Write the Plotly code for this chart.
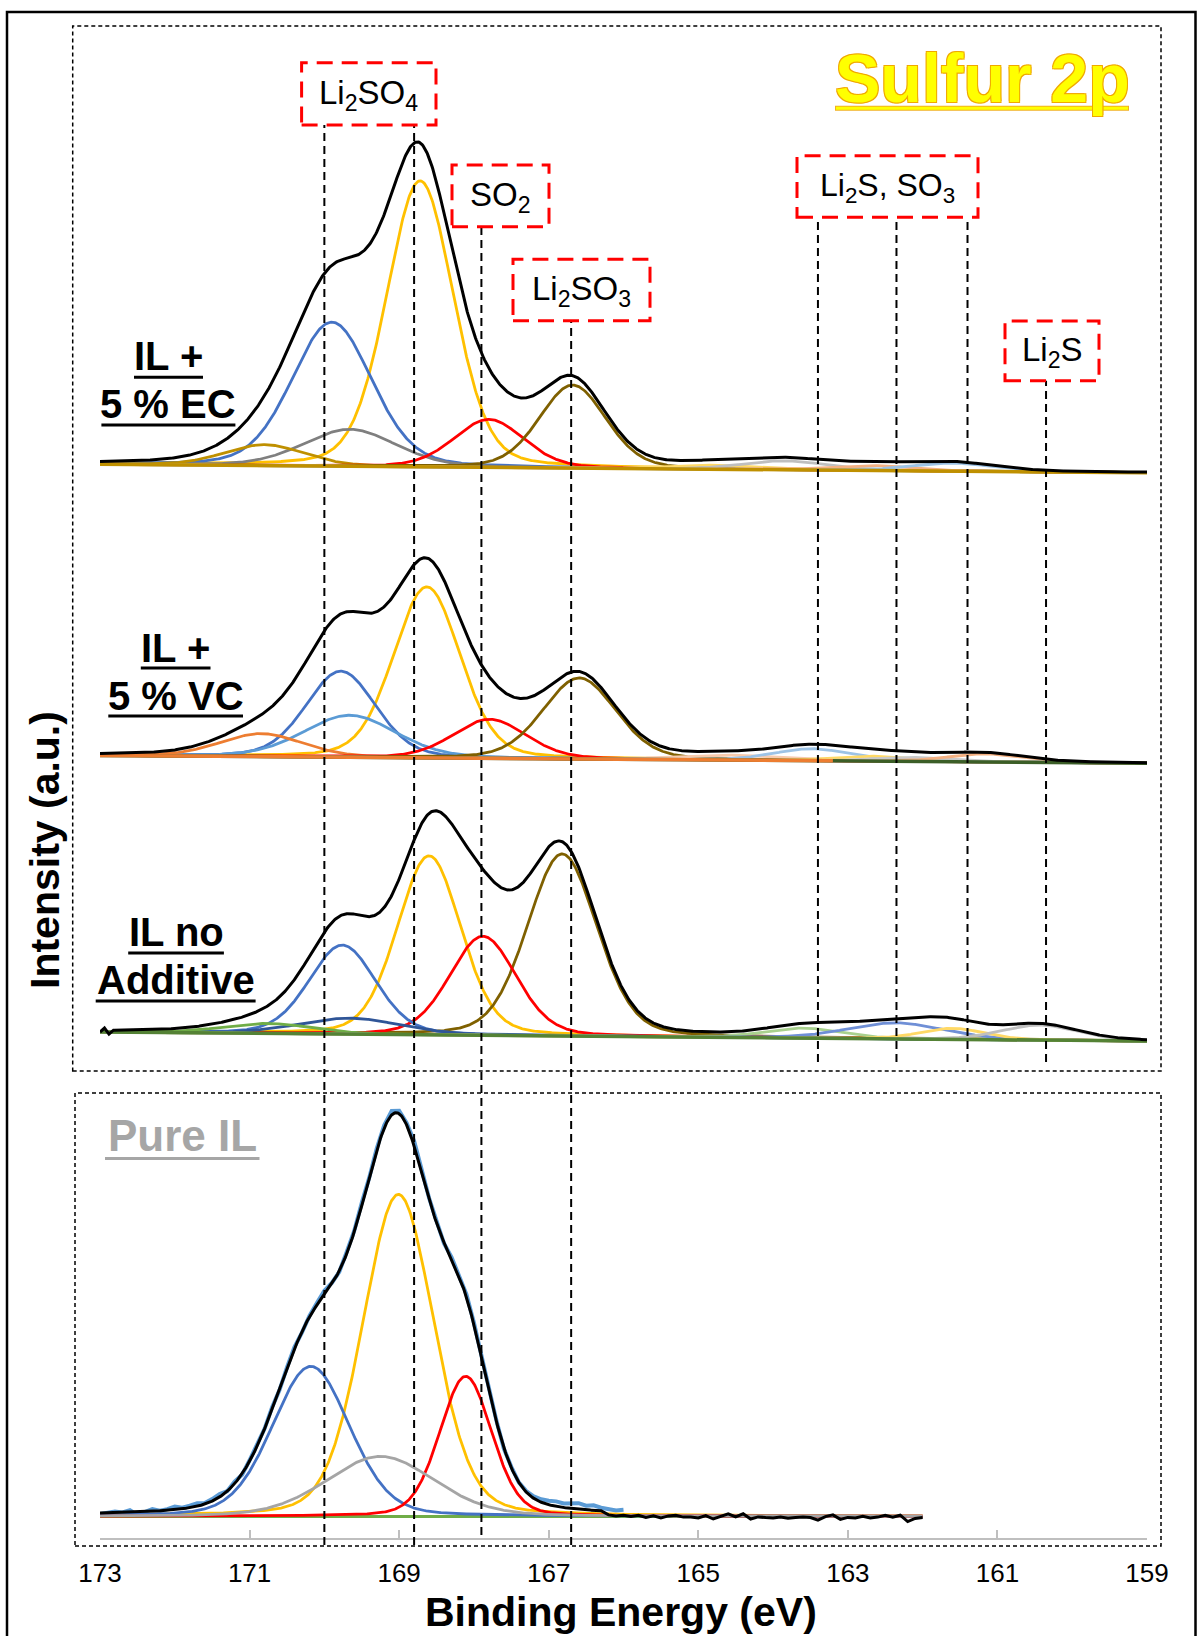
import numpy as np
import plotly.graph_objects as go

# ---------------- DATA ----------------
x_ticks = [173, 171, 169, 167, 165, 163, 161, 159]

# IL + 5 % EC : background (intensity at 173 eV and 159 eV) and fitted components
ec_background = [1073.7, 1065.3]
ec_center = [168.72, 169.90, 169.66, 170.80, 167.80, 166.68, 164.80, 163.85, 162.70, 161.60]
ec_height = [286, 144, 37, 21, 48, 83, 4, 9, 5, 8]
ec_fwhm = [1.05, 1.26, 1.45, 1.25, 1.10, 1.05, 1.3, 1.3, 1.3, 1.3]

# IL + 5 % VC
vc_background = [782.6, 774.8]
vc_orange_bg_end = 163.2
vc_center = [168.63, 169.78, 169.66, 170.84, 167.79, 166.59, 164.60, 163.48, 162.70, 162.10, 161.15]
vc_height = [171, 86, 42, 23, 39, 81, 5, 12, 5, 4, 8]
vc_fwhm = [1.05, 1.10, 1.45, 1.30, 1.15, 1.15, 1.6, 1.2, 1.2, 1.2, 1.2]

# IL no Additive
na_background = [506.0, 497.0]
na_center = [168.60, 166.82, 167.88, 169.76, 169.66, 170.75, 163.60, 162.36, 161.60, 160.43]
na_height = [179, 182, 99, 89, 16, 10, 10, 16, 11, 15]
na_fwhm = [1.00, 1.10, 1.05, 1.05, 1.60, 1.40, 1.2, 1.5, 1.0, 1.2]
na_start_E = [173.0, 172.94, 172.88]
na_start_dI = [0.0, 4.0, -2.0]

# Pure IL (measured range 173 - 162 eV)
pure_range = [173.0, 162.0]
pure_background = [21.6, 21.6]
pure_center = [169.01, 170.18, 168.11, 169.25]
pure_height = [322, 150, 140, 60]
pure_fwhm = [1.12, 1.22, 0.82, 1.70]
pure_raw_E = [round(173.0 - 0.1 * i, 1) for i in range(71)]
pure_raw_dI = [-1, 0, 1, 0, 2, -3, 0, 2, 0, 1, 3, 1, 2, 3, 1, 2, 3, 0, 2, -1,
               1, 2, 0, 2, -1, 1, 2, -1, 1, 2, 4, 1, -1, 2, 1, 3, 0, 2, 3, 4,
               3, 2, 5, 3, 1, 2, -1, 2, 1, 3, 2, 1, 0, 1, -1, 1, 0, 1, 2, 3,
               4, 5, 4, 5, 6, 4, 5, 3, 2, 1, 2]
pure_tail_E = [166.2, 166.1, 166.0, 165.9, 165.8, 165.7, 165.6, 165.5, 165.4, 165.3,
               165.2, 165.1, 165.0, 164.9, 164.8, 164.7, 164.6, 164.5, 164.4, 164.3,
               164.2, 164.1, 164.0, 163.9, 163.8, 163.7, 163.6, 163.5, 163.4, 163.3,
               163.2, 163.1, 163.0, 162.9, 162.8, 162.7, 162.6, 162.5, 162.4, 162.3,
               162.2, 162.1, 162.0]
pure_tail_dI = [1.5, 0.5, 1.2, 0.0, 1.2, -1.0, 0.5, -1.5, 0.5, 1.2, -0.7, -0.7, -1.5, 0.8,
                -2.6, 0.0, 2.6, -0.5, 2.6, -2.6, -0.5, -1.1, -1.5, -0.5, -1.8, -1.1, -0.6,
                -1.1, -3.7, -0.2, 1.5, -3.0, -1.0, -1.5, 0.0, -1.5, -0.7, 1.0, -0.7, 1.2,
                -5.2, -2.0, -1.1]

marker_E_left = [170.0, 168.8, 167.9, 166.7]
marker_E_right = [163.4, 162.35, 161.4, 160.35]

# ---------------- STYLE ----------------
ec_colors = ["#FFC000", "#4472C4", "#7F7F7F", "#BF9000", "#FF0000", "#7F6000",
             "#FFD966", "#BFBFBF", "#F4B183", "#9DC3E6"]
vc_colors = ["#FFC000", "#4472C4", "#5B9BD5", "#ED7D31", "#FF0000", "#7F6000",
             "#F8CBAD", "#9DC3E6", "#FFD966", "#C9C9C9", "#F4B183"]
na_colors = ["#FFC000", "#7F6000", "#FF0000", "#4472C4", "#2F5597", "#70AD47",
             "#A9D18E", "#6F8FD6", "#FFD966", "#BFBFBF"]
pure_colors = ["#FFC000", "#4472C4", "#FF0000", "#A5A5A5"]
FONT = "Liberation Sans, Arial, sans-serif"

W, H = 1198, 1636
ML, MR, MT, MB = 100, 51, 12, 98
PW, PH = W - ML - MR, H - MT - MB


def px(xp):
    return (xp - ML) / PW


def py(yp):
    return (H - MB - yp) / PH


grid = np.linspace(173.0, 159.0, 1401)


def gl(E, c, h, w, m=0.2):
    d2 = 4.0 * (np.asarray(E) - c) ** 2 / w ** 2
    return h * ((1 - m) * np.exp(-np.log(2) * d2) + m / (1 + d2))


def bg(E, b):
    return b[0] + (b[1] - b[0]) * (173.0 - np.asarray(E)) / 14.0


def envelope(E, b, cs, hs, ws):
    tot = bg(E, b)
    for c, h, w in zip(cs, hs, ws):
        tot = tot + gl(E, c, h, w)
    return tot


fig = go.Figure()


def add_line(x, y, color, width):
    fig.add_trace(go.Scatter(x=list(x), y=list(y), mode="lines",
                             line=dict(color=color, width=width),
                             hoverinfo="skip", showlegend=False))


def add_components(b, cs, hs, ws, colors, g=grid):
    for c, h, w, col in zip(cs, hs, ws, colors):
        add_line(g, bg(g, b) + gl(g, c, h, w), col, 2.8)


# EC
add_components(ec_background, ec_center, ec_height, ec_fwhm, ec_colors)
add_line([173, 159], ec_background, "#BF9000", 3.5)
add_line(grid, envelope(grid, ec_background, ec_center, ec_height, ec_fwhm), "black", 3)

# VC
add_components(vc_background, vc_center, vc_height, vc_fwhm, vc_colors)
add_line([173, 159], vc_background, "#3B5E27", 3.5)
add_line([173, vc_orange_bg_end], bg([173, vc_orange_bg_end], vc_background), "#ED7D31", 3.5)
add_line(grid, envelope(grid, vc_background, vc_center, vc_height, vc_fwhm), "black", 3)

# No additive
add_components(na_background, na_center, na_height, na_fwhm, na_colors)
add_line([173, 159], na_background, "#548235", 3.5)
g2 = grid[grid <= 172.83]
na_x = list(na_start_E) + list(g2)
na_y = list(bg(na_start_E, na_background) + np.array(na_start_dI)) + \
    list(envelope(g2, na_background, na_center, na_height, na_fwhm))
add_line(na_x, na_y, "black", 3)

# Pure IL
gp = grid[grid >= pure_range[1]]
add_line(pure_range, bg(pure_range, pure_background), "#70AD47", 3)
raw_y = envelope(pure_raw_E, pure_background, pure_center, pure_height, pure_fwhm) + np.array(pure_raw_dI)
add_line(pure_raw_E, raw_y, "#5B9BD5", 4)
add_components(pure_background, pure_center, pure_height, pure_fwhm, pure_colors, gp)
g3 = grid[grid >= 166.3]
p_x = list(g3) + pure_tail_E
p_y = list(envelope(g3, pure_background, pure_center, pure_height, pure_fwhm)) + \
    list(bg(pure_tail_E, pure_background) + np.array(pure_tail_dI))
add_line(p_x, p_y, "black", 3)

# ---------------- SHAPES ----------------
shapes = []
# outer frame
shapes.append(dict(type="rect", xref="paper", yref="paper", x0=px(7), x1=px(1195.5),
                   y0=py(1650), y1=py(12), line=dict(color="black", width=2.5)))
# dashed panel boxes
for (x0, y0, x1, y1) in [(72.7, 26, 1161, 1071), (75, 1093, 1161, 1546)]:
    shapes.append(dict(type="rect", xref="paper", yref="paper", x0=px(x0), x1=px(x1),
                       y0=py(y1), y1=py(y0), line=dict(color="black", width=1.5, dash="4px,3px")))

# vertical marker lines (energies from data), spans set by layout
left_tops = [125, 125, 226.7, 320.7]
left_bots = [1545, 1545, 1535, 1545]
for E, t, bt in zip(marker_E_left, left_tops, left_bots):
    shapes.append(dict(type="line", xref="x", yref="paper", x0=E, x1=E, y0=py(bt), y1=py(t),
                       line=dict(color="black", width=2, dash="8px,5px")))
right_tops = [217.3, 217.3, 217.3, 380.7]
for E, t in zip(marker_E_right, right_tops):
    shapes.append(dict(type="line", xref="x", yref="paper", x0=E, x1=E, y0=py(1062), y1=py(t),
                       line=dict(color="black", width=2, dash="8px,5px")))

# red dashed label boxes
red_boxes = [(301.6, 62.7, 436, 125), (452, 165, 549, 226.7), (513, 259.3, 650, 320.7),
             (797, 155.7, 978, 217.3), (1005, 321, 1099, 380.7)]
for (x0, y0, x1, y1) in red_boxes:
    shapes.append(dict(type="rect", xref="paper", yref="paper", x0=px(x0), x1=px(x1),
                       y0=py(y1), y1=py(y0), line=dict(color="#FF0000", width=3, dash="16px,9px")))

# underlines
underlines = [(134, 203, 377.3, "black"), (101.4, 235.4, 425, "black"),
              (140.8, 210.5, 667.9, "black"), (108.3, 243, 716, "black"),
              (128.2, 223.9, 952.9, "black"), (95.7, 255.6, 1001, "black"),
              (105, 259.5, 1158.4, "#A6A6A6")]
for x0, x1, yy, col in underlines:
    shapes.append(dict(type="line", xref="paper", yref="paper", x0=px(x0), x1=px(x1),
                       y0=py(yy), y1=py(yy), line=dict(color=col, width=3)))
shapes.append(dict(type="line", xref="paper", yref="paper", x0=px(835), x1=px(1129),
                   y0=py(108.3), y1=py(108.3), line=dict(color="#F0B020", width=5)))
shapes.append(dict(type="line", xref="paper", yref="paper", x0=px(836), x1=px(1128),
                   y0=py(108.3), y1=py(108.3), line=dict(color="#FFFF00", width=3)))

# ---------------- TEXT ----------------
ann = []


def txt(s, x, y, size, color="black", angle=0, shadow=None):
    f = dict(family=FONT, size=size, color=color)
    if shadow:
        f["shadow"] = shadow
    ann.append(dict(text=s, xref="paper", yref="paper", x=px(x), y=py(y), showarrow=False,
                    xanchor="center", yanchor="middle", textangle=angle, font=f))


txt("Li<sub>2</sub>SO<sub>4</sub>", 368.8, 95, 33)
txt("SO<sub>2</sub>", 500.5, 197, 33)
txt("Li<sub>2</sub>SO<sub>3</sub>", 581.5, 291, 33)
txt("Li<sub>2</sub>S, SO<sub>3</sub>", 887.5, 188, 32)
txt("Li<sub>2</sub>S", 1052, 352, 33)

txt("<b>IL +</b>", 168.5, 356, 40)
txt("<b>5 % EC</b>", 168.4, 404, 40)
txt("<b>IL +</b>", 175.6, 648, 40)
txt("<b>5 % VC</b>", 175.6, 696, 40)
txt("<b>IL no</b>", 176, 932, 40)
txt("<b>Additive</b>", 175.6, 980, 40)
txt("<b>Pure IL</b>", 182.3, 1135, 44, color="#A6A6A6")
txt("<b>Sulfur 2p</b>", 982.5, 78, 68, color="#FFFF00",
    shadow="-1px -1px 0 #F0A800, 1px -1px 0 #F0A800, -1px 1px 0 #F0A800, 1px 1px 0 #F0A800")
txt("<b>Binding Energy (eV)</b>", 621, 1612, 41)
txt("<b>Intensity (a.u.)</b>", 45, 850, 41, angle=-90)

fig.update_layout(
    template="none",
    width=W, height=H,
    margin=dict(l=ML, r=MR, t=MT, b=MB, pad=0),
    paper_bgcolor="white", plot_bgcolor="white",
    showlegend=False,
    shapes=shapes, annotations=ann,
    xaxis=dict(range=[173, 159], tickvals=x_ticks, ticktext=[str(v) for v in x_ticks],
               ticks="inside", ticklen=8, tickwidth=2, tickcolor="#BFBFBF",
               showline=True, linecolor="#BFBFBF", linewidth=2, mirror=False,
               showgrid=False, zeroline=False, automargin=False,
               ticklabelstandoff=11,
               tickfont=dict(family=FONT, size=26, color="black")),
    yaxis=dict(range=[0, PH], visible=False, showgrid=False, zeroline=False, automargin=False),
)

fig.write_html("out.html", config={"displayModeBar": False},
               post_script="document.body.style.margin='0';")
